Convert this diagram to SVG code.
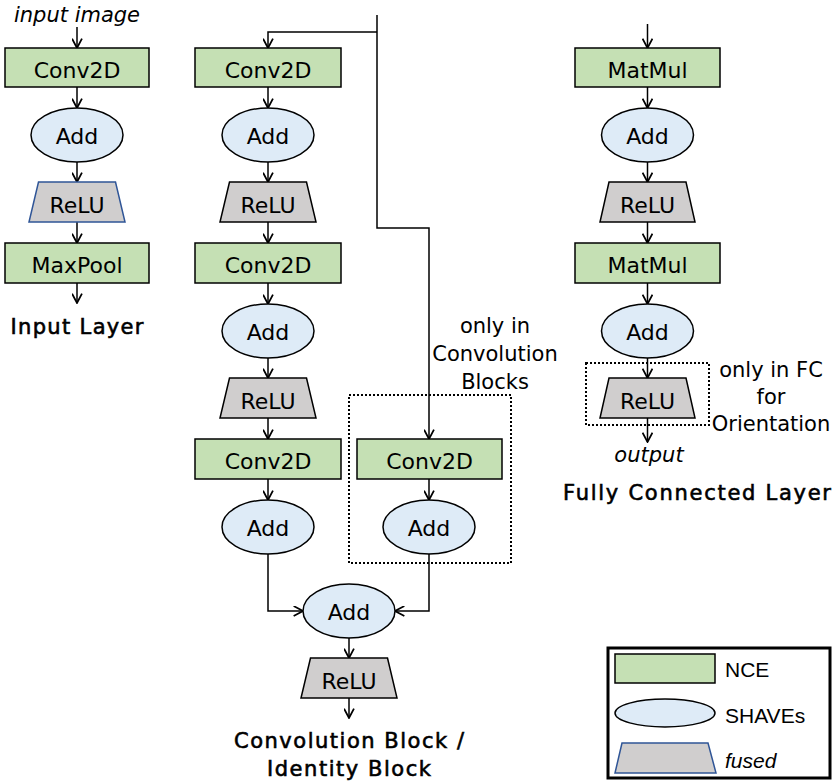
<svg xmlns="http://www.w3.org/2000/svg" width="834" height="783" viewBox="0 0 834 783">
<defs>
<marker id="a" viewBox="0 0 10 10" refX="9" refY="5" markerWidth="11" markerHeight="11" markerUnits="userSpaceOnUse" orient="auto">
<path d="M0.5,0.5 L9,5 L0.5,9.5" fill="none" stroke="#000" stroke-width="1.6"/>
</marker>
</defs>
<style>
.nce{fill:#C5E0B4;stroke:#000;stroke-width:1.5}
.shv{fill:#DEEBF7;stroke:#000;stroke-width:1.5}
.relu{fill:#D0CECE;stroke:#000;stroke-width:1.5}
.fused{fill:#D0CECE;stroke:#2F5597;stroke-width:1.5}
.t{font-family:"DejaVu Sans",sans-serif;font-size:22px;fill:#000;text-anchor:middle}
.lbl{font-family:"DejaVu Sans",sans-serif;font-size:21px;fill:#000;text-anchor:middle}
.it{font-style:italic}
.title{font-family:"DejaVu Sans",sans-serif;font-size:21px;fill:#000;stroke:#000;stroke-width:0.6;text-anchor:middle}
.leg{font-family:"Liberation Sans",Arial,sans-serif;font-size:21px;fill:#000}
.c{fill:none;stroke:#000;stroke-width:1.5;marker-end:url(#a)}
.dot{fill:none;stroke:#000;stroke-width:2;stroke-dasharray:2 2}
</style>

<g id="connectors">
<line class="c" x1="77" y1="27" x2="77" y2="48"/>
<line class="c" x1="77" y1="87" x2="77" y2="108"/>
<line class="c" x1="77" y1="162" x2="77" y2="182"/>
<line class="c" x1="77" y1="222" x2="77" y2="243"/>
<line class="c" x1="77" y1="283" x2="77" y2="303"/>
<path class="c" d="M377,15 V228 H429 V439"/>
<path class="c" d="M377,32 H268 V48"/>
<line class="c" x1="268" y1="87" x2="268" y2="108"/>
<line class="c" x1="268" y1="162" x2="268" y2="182"/>
<line class="c" x1="268" y1="222" x2="268" y2="243"/>
<line class="c" x1="268" y1="283" x2="268" y2="304"/>
<line class="c" x1="268" y1="358" x2="268" y2="378"/>
<line class="c" x1="268" y1="418" x2="268" y2="439"/>
<line class="c" x1="268" y1="479" x2="268" y2="500"/>
<line class="c" x1="429" y1="479" x2="429" y2="500"/>
<path class="c" d="M268,554 V611 H303"/>
<path class="c" d="M429,554 V611 H395"/>
<line class="c" x1="349" y1="638" x2="349" y2="658"/>
<line class="c" x1="349" y1="698" x2="349" y2="718"/>
<line class="c" x1="647.5" y1="24" x2="647.5" y2="48"/>
<line class="c" x1="647.5" y1="87" x2="647.5" y2="108"/>
<line class="c" x1="647.5" y1="162" x2="647.5" y2="182"/>
<line class="c" x1="647.5" y1="222" x2="647.5" y2="243"/>
<line class="c" x1="647.5" y1="283" x2="647.5" y2="304"/>
<line class="c" x1="647.5" y1="358" x2="647.5" y2="378"/>
<line class="c" x1="647.5" y1="418" x2="647.5" y2="442"/>
</g>

<text class="lbl it" x="77" y="22">input image</text>
<g id="in-conv"><rect class="nce" x="5" y="48" width="144" height="39"/><text class="t" x="77" y="78">Conv2D</text></g>
<g id="in-add"><ellipse class="shv" cx="77" cy="135" rx="46" ry="27"/><text class="t" x="77" y="144">Add</text></g>
<g id="in-relu"><polygon class="fused" points="38.5,182 115.5,182 125,222 29,222"/><text class="t" x="77" y="213">ReLU</text></g>
<g id="in-maxpool"><rect class="nce" x="5" y="243" width="144" height="40"/><text class="t" x="77" y="273">MaxPool</text></g>
<text class="title" x="77" y="334" textLength="133" lengthAdjust="spacing">Input Layer</text>

<g id="cb-conv1"><rect class="nce" x="195" y="48" width="146" height="39"/><text class="t" x="268" y="78">Conv2D</text></g>
<g id="cb-add1"><ellipse class="shv" cx="268" cy="135" rx="46" ry="27"/><text class="t" x="268" y="144">Add</text></g>
<g id="cb-relu1"><polygon class="relu" points="229.5,182 306.5,182 316,222 220,222"/><text class="t" x="268" y="213">ReLU</text></g>
<g id="cb-conv2"><rect class="nce" x="195" y="243" width="146" height="40"/><text class="t" x="268" y="273">Conv2D</text></g>
<g id="cb-add2"><ellipse class="shv" cx="268" cy="331" rx="46" ry="27"/><text class="t" x="268" y="340">Add</text></g>
<g id="cb-relu2"><polygon class="relu" points="229.5,378 306.5,378 316,418 220,418"/><text class="t" x="268" y="409">ReLU</text></g>
<g id="cb-conv3"><rect class="nce" x="195" y="439" width="146" height="40"/><text class="t" x="268" y="469">Conv2D</text></g>
<g id="cb-add3"><ellipse class="shv" cx="268" cy="527" rx="46" ry="27"/><text class="t" x="268" y="536">Add</text></g>
<g id="cb-conv-sc"><rect class="nce" x="357" y="439" width="145" height="40"/><text class="t" x="429.5" y="469">Conv2D</text></g>
<g id="cb-add-sc"><ellipse class="shv" cx="429" cy="527" rx="46" ry="27"/><text class="t" x="429" y="536">Add</text></g>
<g id="cb-only"><rect class="dot" x="349" y="395" width="162" height="168"/>
<text class="lbl" x="495" y="333">only in</text><text class="lbl" x="495" y="361">Convolution</text><text class="lbl" x="495" y="389">Blocks</text></g>
<g id="cb-add4"><ellipse class="shv" cx="349" cy="611" rx="46" ry="27"/><text class="t" x="349" y="620">Add</text></g>
<g id="cb-relu4"><polygon class="relu" points="310.5,658 387.5,658 397,698 301,698"/><text class="t" x="349" y="689">ReLU</text></g>
<text class="title" x="349" y="748" textLength="230" lengthAdjust="spacing">Convolution Block /</text>
<text class="title" x="349" y="776" textLength="164" lengthAdjust="spacing">Identity Block</text>

<g id="fc-mm1"><rect class="nce" x="575" y="48" width="145" height="39"/><text class="t" x="647.5" y="78">MatMul</text></g>
<g id="fc-add1"><ellipse class="shv" cx="647.5" cy="135" rx="46" ry="27"/><text class="t" x="647.5" y="144">Add</text></g>
<g id="fc-relu1"><polygon class="relu" points="609,182 686,182 695,222 600,222"/><text class="t" x="647.5" y="213">ReLU</text></g>
<g id="fc-mm2"><rect class="nce" x="575" y="243" width="145" height="40"/><text class="t" x="647.5" y="273">MatMul</text></g>
<g id="fc-add2"><ellipse class="shv" cx="647.5" cy="331" rx="46" ry="27"/><text class="t" x="647.5" y="340">Add</text></g>
<g id="fc-relu2"><polygon class="relu" points="609,378 686,378 695,418 600,418"/><text class="t" x="647.5" y="409">ReLU</text></g>
<g id="fc-only"><rect class="dot" x="586" y="363" width="123" height="62"/>
<text class="lbl" x="771" y="377">only in FC</text><text class="lbl" x="771" y="404">for</text><text class="lbl" x="771" y="431">Orientation</text></g>
<text class="lbl it" x="649" y="462">output</text>
<text class="title" x="697" y="500" textLength="268" lengthAdjust="spacing">Fully Connected Layer</text>

<g id="legend">
<rect x="608" y="648" width="222" height="130" fill="#fff" stroke="#000" stroke-width="3"/>
<rect class="nce" x="615" y="654" width="100" height="29"/>
<text class="leg" x="725" y="677">NCE</text>
<ellipse class="shv" cx="665" cy="713" rx="50" ry="14"/>
<text class="leg" x="725" y="723">SHAVEs</text>
<polygon class="fused" points="622,743 708,743 716,773 615,773"/>
<text class="leg it" x="725" y="768">fused</text>
</g>
</svg>
